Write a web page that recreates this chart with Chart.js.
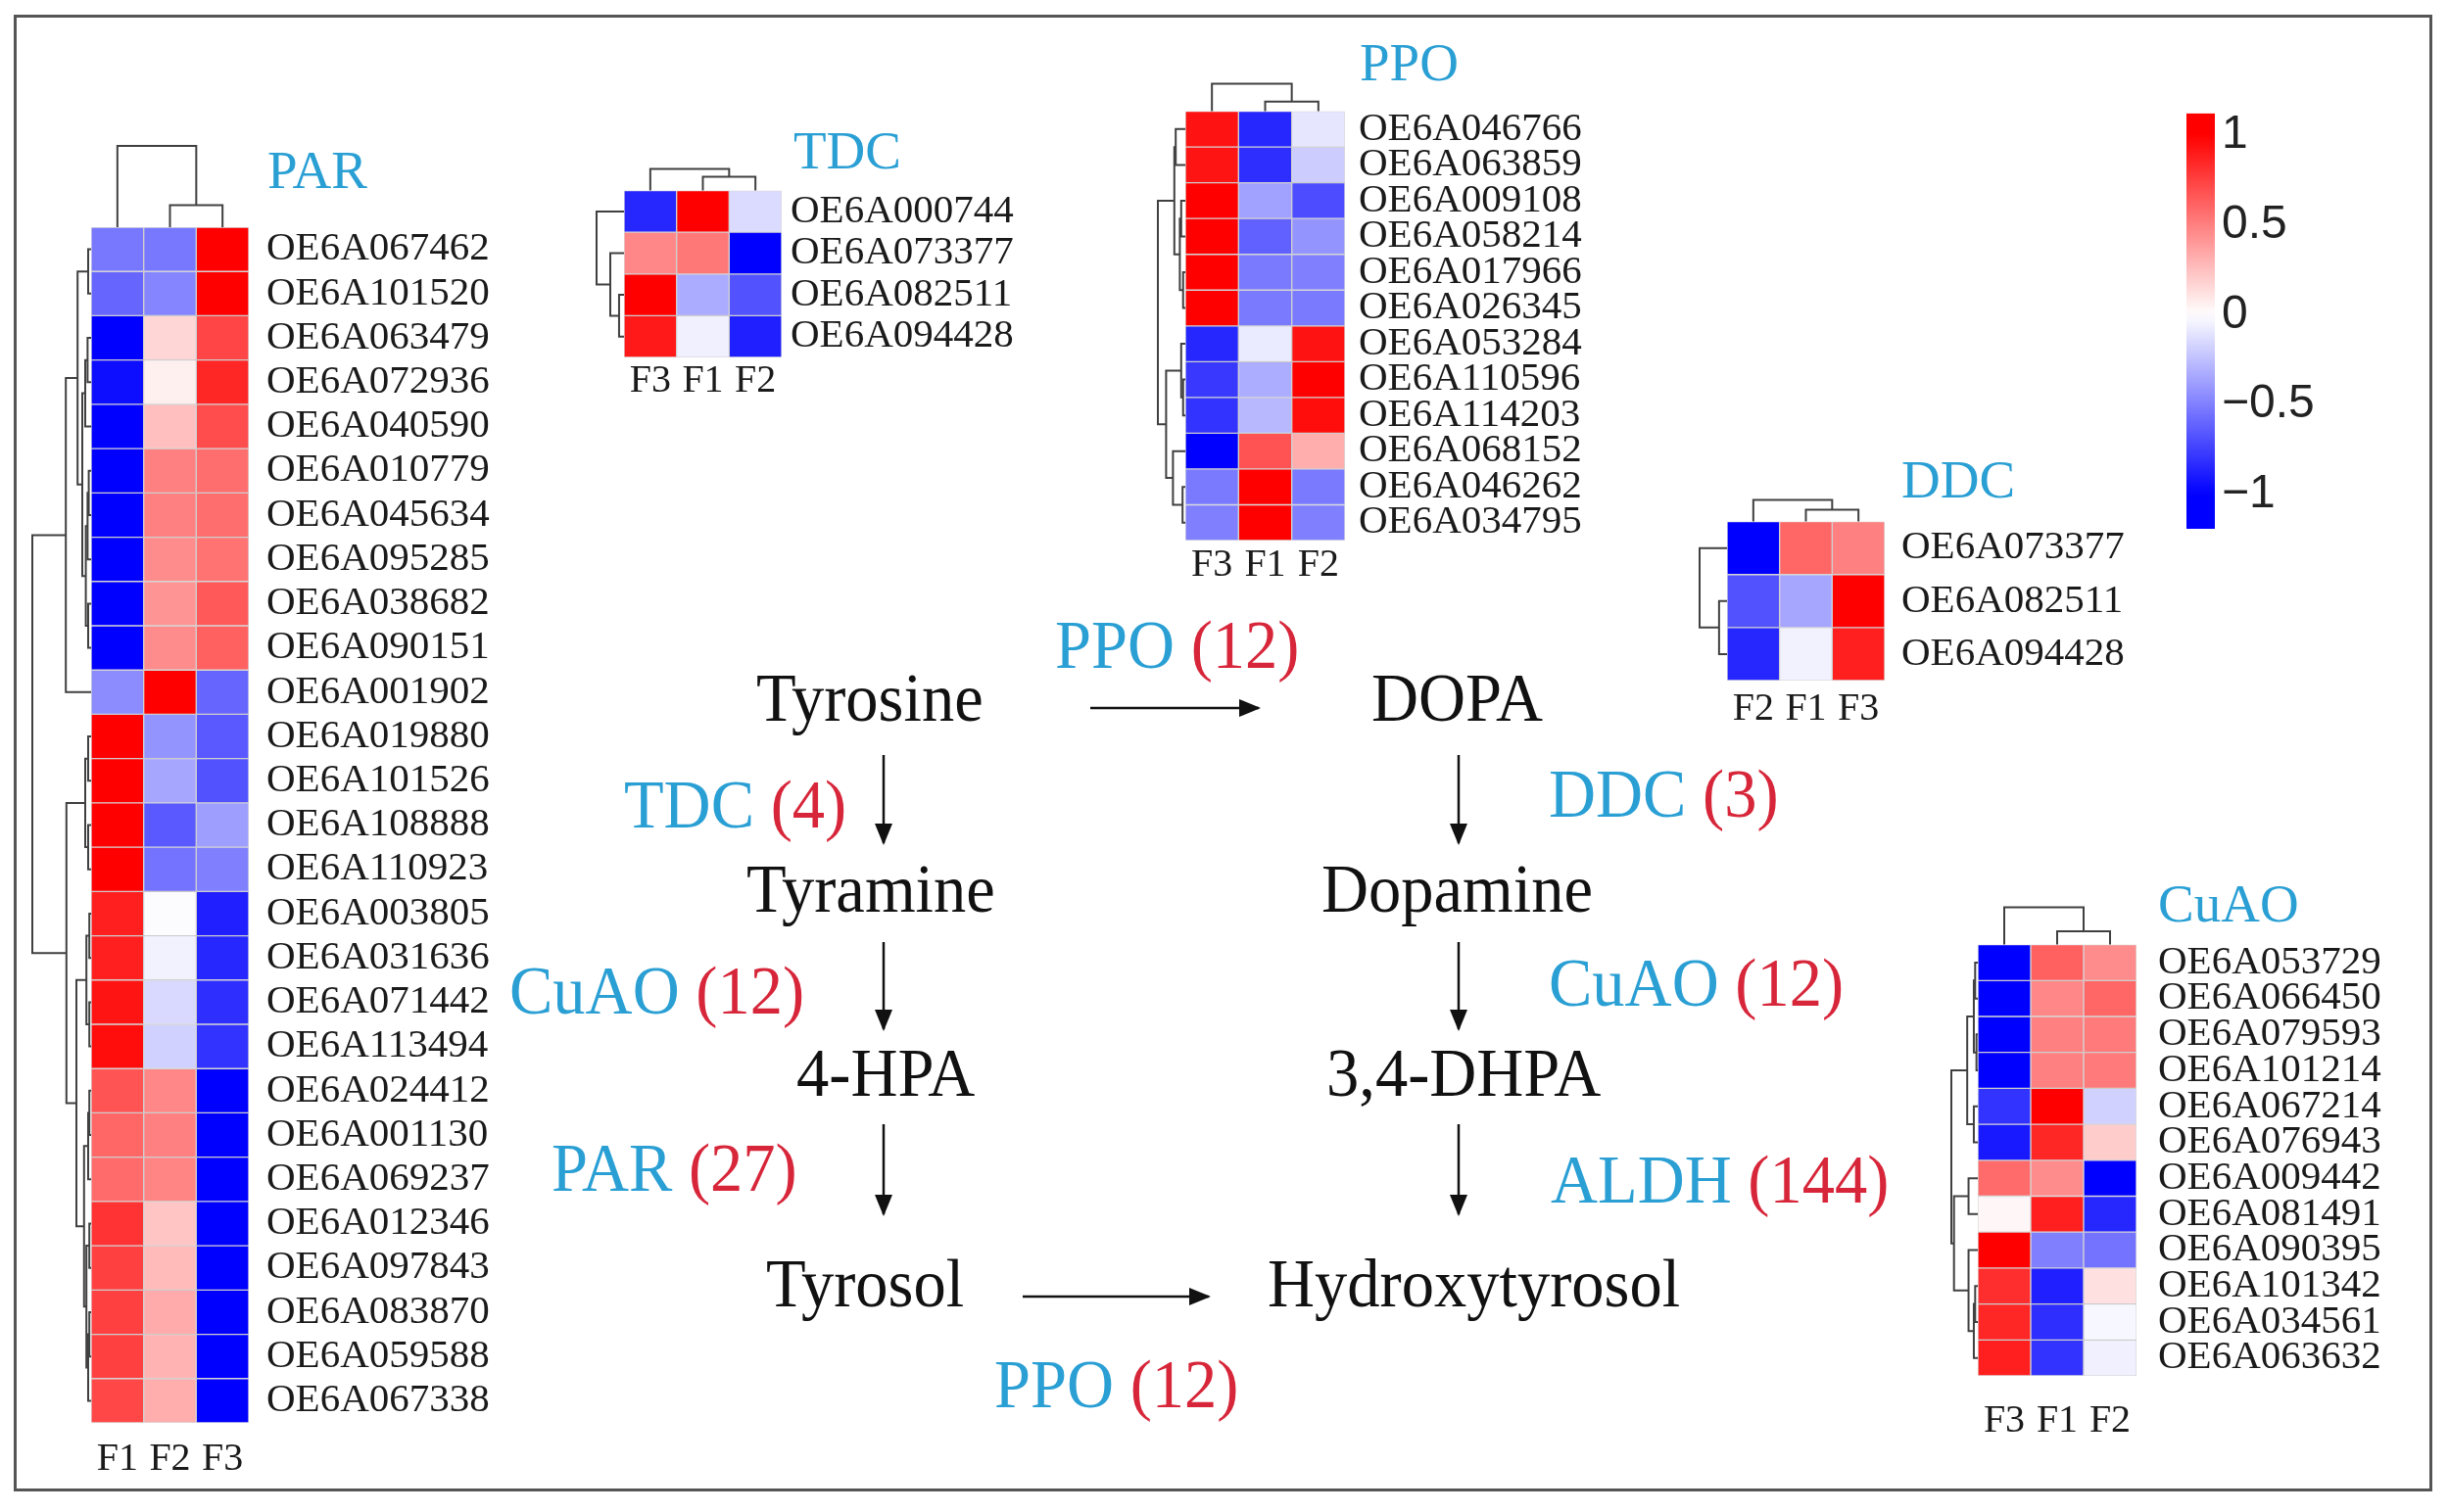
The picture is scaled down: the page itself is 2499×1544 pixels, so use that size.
<!DOCTYPE html>
<html>
<head>
<meta charset="utf-8">
<title>Hydroxytyrosol pathway heatmaps</title>
<script src="https://cdn.jsdelivr.net/npm/chart.js@4.4.0/dist/chart.umd.min.js"></script>
<style>
    body { margin: 0; background: #fff; }
    #page { position: relative; width: 2499px; height: 1544px; overflow: hidden; background: #fff;
            font-family: "Liberation Serif", "Times New Roman", serif; }
    #frame { position: absolute; left: 14px; top: 15px; width: 2469px; height: 1508px;
             border: 3px solid #555; box-sizing: border-box; }
    canvas { position: absolute; }
    .t { position: absolute; font-size: 70px; line-height: 1; white-space: nowrap; color: #111;
         transform: scaleX(0.95); transform-origin: 0 0; }
    .e { color: #2a9fd4; }
    .n { color: #d7263a; }
    .title { position: absolute; font-size: 55px; line-height: 1; white-space: nowrap; color: #2a9fd4; }
</style>
</head>
<body>
<div id="page">
    <div id="frame"></div>

    <!-- group titles -->
    <div class="title" style="left:273px;top:146px">PAR</div>
    <div class="title" style="left:810px;top:126px">TDC</div>
    <div class="title" style="left:1388px;top:36px">PPO</div>
    <div class="title" style="left:1941px;top:462px">DDC</div>
    <div class="title" style="left:2203px;top:895px">CuAO</div>

    <!-- pathway -->
    <div class="t" style="left:772px;top:678px">Tyrosine</div>
    <div class="t" style="left:1400px;top:678px">DOPA</div>
    <div class="t" style="left:1077px;top:624px"><span class="e">PPO</span> <span class="n">(12)</span></div>
    <div class="t" style="left:637px;top:787px"><span class="e">TDC</span> <span class="n">(4)</span></div>
    <div class="t" style="left:1581px;top:776px"><span class="e">DDC</span> <span class="n">(3)</span></div>
    <div class="t" style="left:762px;top:873px">Tyramine</div>
    <div class="t" style="left:1349px;top:873px">Dopamine</div>
    <div class="t" style="left:520px;top:977px"><span class="e">CuAO</span> <span class="n">(12)</span></div>
    <div class="t" style="left:1581px;top:969px"><span class="e">CuAO</span> <span class="n">(12)</span></div>
    <div class="t" style="left:813px;top:1061px">4-HPA</div>
    <div class="t" style="left:1354px;top:1061px">3,4-DHPA</div>
    <div class="t" style="left:563px;top:1158px"><span class="e">PAR</span> <span class="n">(27)</span></div>
    <div class="t" style="left:1583px;top:1170px"><span class="e">ALDH</span> <span class="n">(144)</span></div>
    <div class="t" style="left:782px;top:1276px">Tyrosol</div>
    <div class="t" style="left:1294px;top:1276px">Hydroxytyrosol</div>
    <div class="t" style="left:1015px;top:1379px"><span class="e">PPO</span> <span class="n">(12)</span></div>

    <svg width="2499" height="1544" style="position:absolute;left:0;top:0">
        <defs>
            <marker id="ah" markerWidth="22" markerHeight="18" refX="20" refY="9" orient="auto" markerUnits="userSpaceOnUse">
                <path d="M0,0 L22,9 L0,18 z" fill="#111"/>
            </marker>
        </defs>
        <g stroke="#111" stroke-width="2.5" marker-end="url(#ah)">
            <line x1="1113" y1="723" x2="1285" y2="723"/>
            <line x1="1044" y1="1324" x2="1234" y2="1324"/>
            <line x1="902" y1="771" x2="902" y2="861"/>
            <line x1="902" y1="962" x2="902" y2="1051"/>
            <line x1="902" y1="1148" x2="902" y2="1240"/>
            <line x1="1489" y1="771" x2="1489" y2="861"/>
            <line x1="1489" y1="962" x2="1489" y2="1051"/>
            <line x1="1489" y1="1148" x2="1489" y2="1240"/>
        </g>
    </svg>
</div>

<script>
// ---- PAR (27 genes) ----
var parCols = ['F1', 'F2', 'F3'];
var parGenes = ['OE6A067462', 'OE6A101520', 'OE6A063479', 'OE6A072936', 'OE6A040590', 'OE6A010779',
    'OE6A045634', 'OE6A095285', 'OE6A038682', 'OE6A090151', 'OE6A001902', 'OE6A019880', 'OE6A101526',
    'OE6A108888', 'OE6A110923', 'OE6A003805', 'OE6A031636', 'OE6A071442', 'OE6A113494', 'OE6A024412',
    'OE6A001130', 'OE6A069237', 'OE6A012346', 'OE6A097843', 'OE6A083870', 'OE6A059588', 'OE6A067338'];
var parValues = [
    [-0.53, -0.53, 1.0], [-0.6, -0.48, 1.0], [-1.0, 0.16, 0.73], [-0.95, 0.06, 0.85], [-1.0, 0.25, 0.7],
    [-1.0, 0.5, 0.57], [-1.0, 0.5, 0.57], [-1.0, 0.45, 0.55], [-1.0, 0.42, 0.65], [-1.0, 0.45, 0.62],
    [-0.45, 1.0, -0.6], [1.0, -0.42, -0.65], [1.0, -0.35, -0.68], [1.0, -0.65, -0.38], [1.0, -0.55, -0.5],
    [0.88, -0.01, -0.88], [0.88, -0.05, -0.85], [0.92, -0.15, -0.82], [0.95, -0.18, -0.8],
    [0.67, 0.47, -1.0], [0.6, 0.5, -1.0], [0.58, 0.48, -1.0], [0.8, 0.23, -1.0], [0.75, 0.27, -1.0],
    [0.75, 0.33, -1.0], [0.75, 0.3, -1.0], [0.72, 0.32, -1.0]];
// merges: [left, right, height]; leaves 0..n-1, merge k gets id n+k
var parRowTree = [[2, 3, 0.06], [27, 4, 0.1], [5, 6, 0.04], [29, 7, 0.06], [8, 9, 0.05], [30, 31, 0.09],
    [28, 32, 0.15], [0, 1, 0.05], [34, 33, 0.23], [35, 10, 0.43], [11, 12, 0.05], [13, 14, 0.05],
    [37, 38, 0.1], [15, 16, 0.03], [17, 18, 0.03], [40, 41, 0.08], [19, 20, 0.03], [43, 21, 0.05],
    [22, 23, 0.03], [24, 25, 0.03], [46, 26, 0.05], [45, 47, 0.08], [44, 48, 0.12], [42, 49, 0.25],
    [39, 50, 0.42], [36, 51, 1.0]];
var parColTree = [[1, 2, 0.27], [0, 3, 1.0]];

// ---- TDC (4 genes) ----
var tdcCols = ['F3', 'F1', 'F2'];
var tdcGenes = ['OE6A000744', 'OE6A073377', 'OE6A082511', 'OE6A094428'];
var tdcValues = [[-0.85, 1.0, -0.14], [0.47, 0.53, -1.0], [1.0, -0.33, -0.68], [0.9, -0.06, -0.88]];
var tdcRowTree = [[2, 3, 0.18], [1, 4, 0.5], [0, 5, 1.0]];
var tdcColTree = [[1, 2, 0.64], [0, 3, 1.0]];

// ---- PPO (12 genes) ----
var ppoCols = ['F3', 'F1', 'F2'];
var ppoGenes = ['OE6A046766', 'OE6A063859', 'OE6A009108', 'OE6A058214', 'OE6A017966', 'OE6A026345',
    'OE6A053284', 'OE6A110596', 'OE6A114203', 'OE6A068152', 'OE6A046262', 'OE6A034795'];
var ppoValues = [[0.93, -0.85, -0.1], [0.92, -0.82, -0.2], [1.0, -0.37, -0.7], [1.0, -0.62, -0.42],
    [1.0, -0.52, -0.5], [1.0, -0.52, -0.52], [-0.85, -0.08, 0.93], [-0.78, -0.32, 1.0],
    [-0.8, -0.28, 0.95], [-1.0, 0.68, 0.32], [-0.52, 1.0, -0.52], [-0.5, 1.0, -0.5]];
var ppoRowTree = [[0, 1, 0.35], [2, 3, 0.15], [4, 5, 0.08], [13, 14, 0.2], [12, 15, 0.4], [7, 8, 0.08],
    [6, 17, 0.15], [10, 11, 0.1], [9, 19, 0.45], [18, 20, 0.7], [16, 21, 1.0]];
var ppoColTree = [[1, 2, 0.35], [0, 3, 1.0]];

// ---- DDC (3 genes) ----
var ddcCols = ['F2', 'F1', 'F3'];
var ddcGenes = ['OE6A073377', 'OE6A082511', 'OE6A094428'];
var ddcValues = [[-1.0, 0.6, 0.5], [-0.68, -0.35, 1.0], [-0.85, -0.05, 0.88]];
var ddcRowTree = [[1, 2, 0.29], [0, 3, 1.0]];
var ddcColTree = [[1, 2, 0.55], [0, 3, 1.0]];

// ---- CuAO (12 genes) ----
var cuaoCols = ['F3', 'F1', 'F2'];
var cuaoGenes = ['OE6A053729', 'OE6A066450', 'OE6A079593', 'OE6A101214', 'OE6A067214', 'OE6A076943',
    'OE6A009442', 'OE6A081491', 'OE6A090395', 'OE6A101342', 'OE6A034561', 'OE6A063632'];
var cuaoValues = [[-1.0, 0.62, 0.45], [-1.0, 0.47, 0.6], [-1.0, 0.5, 0.52], [-1.0, 0.5, 0.52],
    [-0.8, 1.0, -0.18], [-0.9, 0.85, 0.2], [0.58, 0.45, -1.0], [0.03, 0.88, -0.85],
    [1.0, -0.5, -0.55], [0.82, -0.88, 0.12], [0.85, -0.82, -0.03], [0.88, -0.8, -0.06]];
var cuaoRowTree = [[0, 1, 0.1], [2, 3, 0.05], [12, 13, 0.15], [4, 5, 0.15], [14, 15, 0.4], [6, 7, 0.35],
    [9, 10, 0.1], [18, 11, 0.15], [8, 19, 0.35], [17, 20, 0.9], [16, 21, 1.0]];
var cuaoColTree = [[1, 2, 0.36], [0, 3, 1.0]];

// ---- colour key ----
var keyRange = [-1.19, 1.118];
var keyTicks = [1, 0.5, 0, -0.5, -1];

var serif = 'Liberation Serif';

function heatColor(v) {
    v = Math.max(-1, Math.min(1, v));
    var c;
    if (v >= 0) {
        c = Math.round(255 * (1 - v));
        return 'rgb(255,' + c + ',' + c + ')';
    }
    c = Math.round(255 * (1 + v));
    return 'rgb(' + c + ',' + c + ',255)';
}

function addCanvas(left, top, width, height) {
    var c = document.createElement('canvas');
    c.width = width;
    c.height = height;
    c.style.left = left + 'px';
    c.style.top = top + 'px';
    c.style.width = width + 'px';
    c.style.height = height + 'px';
    document.getElementById('page').appendChild(c);
    return c;
}

// draw a dendrogram; pos = leaf pixel along the axis, depth = pixel for a height
function drawTree(ctx, tree, n, pos, depth, isRow) {
    var p = [], h = [];
    for (var i = 0; i < n; i++) { p[i] = pos(i); h[i] = 0; }
    tree.forEach(function(m, k) {
        var a = m[0], b = m[1], d = depth(m[2]);
        ctx.beginPath();
        if (isRow) {
            ctx.moveTo(depth(h[a]), p[a]);
            ctx.lineTo(d, p[a]);
            ctx.lineTo(d, p[b]);
            ctx.lineTo(depth(h[b]), p[b]);
        } else {
            ctx.moveTo(p[a], depth(h[a]));
            ctx.lineTo(p[a], d);
            ctx.lineTo(p[b], d);
            ctx.lineTo(p[b], depth(h[b]));
        }
        ctx.stroke();
        p[n + k] = (p[a] + p[b]) / 2;
        h[n + k] = m[2];
    });
}

function heatmap(box, genes, cols, values, rowTree, colTree) {
    var padL = box.rowW + 6, padT = box.colH + 6, axisW = 270, axisH = 70;
    var canvas = addCanvas(box.left - padL, box.top - padT, padL + box.w + axisW, padT + box.h + axisH);

    var datasets = cols.map(function(c, j) {
        return {
            label: c,
            xAxisID: 'x',
            yAxisID: 'y',
            data: genes.map(function() { return 1; }),
            backgroundColor: values.map(function(r) { return heatColor(r[j]); }),
            borderColor: 'rgba(150,150,150,0.35)',
            borderWidth: 1,
            borderSkipped: false,
            barPercentage: 1,
            categoryPercentage: 1
        };
    });

    var dendro = {
        id: 'dendro',
        afterDraw: function(chart) {
            var ctx = chart.ctx, area = chart.chartArea;
            var ys = chart.scales.y, xs = chart.scales.xc;
            ctx.save();
            ctx.strokeStyle = '#404040';
            ctx.lineWidth = 2;
            drawTree(ctx, rowTree, genes.length, function(i) { return ys.getPixelForValue(i); },
                function(h) { return area.left - h * box.rowW; }, true);
            drawTree(ctx, colTree, cols.length, function(i) { return xs.getPixelForValue(i); },
                function(h) { return area.top - h * box.colH; }, false);
            ctx.restore();
        }
    };

    return new Chart(canvas, {
        type: 'bar',
        data: { labels: genes, datasets: datasets },
        options: {
            indexAxis: 'y',
            responsive: false,
            animation: false,
            layout: { padding: { left: padL, top: padT, right: 0, bottom: 0 } },
            plugins: { legend: { display: false }, tooltip: { enabled: false } },
            scales: {
                x: { type: 'linear', stacked: true, min: 0, max: cols.length, display: false },
                xc: {
                    type: 'category', labels: cols, position: 'bottom', offset: true,
                    grid: { display: false, drawTicks: false }, border: { display: false },
                    ticks: { font: { family: serif, size: 40 }, color: '#1a1a1a', padding: box.colPad },
                    afterFit: function(s) { s.height = axisH; }
                },
                y: {
                    type: 'category', position: 'right', stacked: true, offset: true,
                    grid: { display: false, drawTicks: false }, border: { display: false },
                    ticks: { autoSkip: false, font: { family: serif, size: 41 }, color: '#1a1a1a', padding: box.gap },
                    afterFit: function(s) { s.width = axisW; }
                }
            }
        },
        plugins: [dendro]
    });
}

heatmap({ left: 93, top: 232, w: 161, h: 1221, rowW: 60, colH: 83, gap: 18, colPad: 13 },
    parGenes, parCols, parValues, parRowTree, parColTree);
heatmap({ left: 637, top: 189, w: 161, h: 176, rowW: 28, colH: 22, gap: 9, colPad: 0 },
    tdcGenes, tdcCols, tdcValues, tdcRowTree, tdcColTree);
heatmap({ left: 1210, top: 109, w: 163, h: 443, rowW: 28, colH: 28, gap: 14, colPad: 1 },
    ppoGenes, ppoCols, ppoValues, ppoRowTree, ppoColTree);
heatmap({ left: 1763, top: 519, w: 161, h: 176, rowW: 28, colH: 22, gap: 17, colPad: 5 },
    ddcGenes, ddcCols, ddcValues, ddcRowTree, ddcColTree);
heatmap({ left: 2019, top: 962, w: 162, h: 443, rowW: 27, colH: 38, gap: 22, colPad: 22 },
    cuaoGenes, cuaoCols, cuaoValues, cuaoRowTree, cuaoColTree);

// colour key
var keyCanvas = addCanvas(2232, 80, 189, 500);
new Chart(keyCanvas, {
    type: 'bar',
    data: {
        labels: [''],
        datasets: [{
            data: [keyRange],
            backgroundColor: function(c) {
                var a = c.chart.chartArea;
                if (!a) return '#fff';
                var g = c.chart.ctx.createLinearGradient(0, a.bottom, 0, a.top);
                for (var i = 0; i <= 40; i++) {
                    g.addColorStop(i / 40, heatColor(keyRange[0] + (keyRange[1] - keyRange[0]) * i / 40));
                }
                return g;
            },
            borderWidth: 0,
            barPercentage: 1,
            categoryPercentage: 1
        }]
    },
    options: {
        responsive: false,
        animation: false,
        layout: { padding: { left: 0, top: 30, right: 0, bottom: 40 } },
        plugins: { legend: { display: false }, tooltip: { enabled: false } },
        scales: {
            x: { display: false },
            y: {
                position: 'right', min: keyRange[0], max: keyRange[1],
                grid: { display: false, drawTicks: false }, border: { display: false },
                afterBuildTicks: function(s) { s.ticks = keyTicks.map(function(v) { return { value: v }; }); },
                ticks: {
                    font: { family: 'Liberation Sans', size: 48 }, color: '#222', padding: 7,
                    callback: function(v) { return (v < 0 ? '\u2212' : '') + Math.abs(v); }
                },
                afterFit: function(s) { s.width = 160; }
            }
        }
    }
});
</script>
</body>
</html>
